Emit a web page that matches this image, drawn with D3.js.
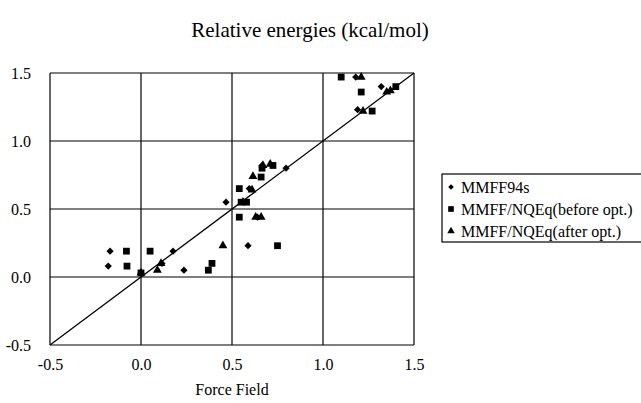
<!DOCTYPE html>
<html>
<head>
<meta charset="utf-8">
<script src="https://cdn.jsdelivr.net/npm/d3@7"></script>
<style>
  body { margin: 0; background: #fff; }
  text { font-family: "Liberation Serif", "Times New Roman", serif; fill: #000; }
</style>
</head>
<body>
<svg id="chart" width="641" height="403"></svg>
<script>
// tick values
let xTicks = [-0.5, 0.0, 0.5, 1.0, 1.5];
let yTicks = [-0.5, 0.0, 0.5, 1.0, 1.5];

// series, [force field, reference]
let mmff94s = [[-0.18,0.08],[-0.17,0.19],[0.0,0.03],[0.115,0.10],[0.176,0.19],[0.236,0.05],
  [0.467,0.55],[0.588,0.23],[0.595,0.65],[0.64,0.44],[0.665,0.82],[0.797,0.80],
  [1.18,1.47],[1.19,1.23],[1.32,1.40]];
let nqeqBefore = [[-0.08,0.19],[-0.077,0.08],[0.0,0.03],[0.05,0.19],[0.37,0.05],[0.39,0.10],
  [0.54,0.44],[0.54,0.65],[0.55,0.55],[0.58,0.55],[0.66,0.735],[0.665,0.80],[0.725,0.82],
  [0.75,0.23],[1.10,1.47],[1.21,1.36],[1.27,1.22],[1.40,1.40]];
let nqeqAfter = [[0.0,0.03],[0.09,0.05],[0.11,0.10],[0.45,0.23],[0.56,0.55],[0.615,0.74],
  [0.61,0.64],[0.63,0.44],[0.66,0.44],[0.67,0.82],[0.71,0.83],[1.21,1.47],[1.22,1.22],
  [1.35,1.36],[1.37,1.37]];

let seriesNames = ["MMFF94s", "MMFF/NQEq(before opt.)", "MMFF/NQEq(after opt.)"];
let series = [mmff94s, nqeqBefore, nqeqAfter];

var svg = d3.select("#chart");
var plot = {left: 50, right: 414, top: 73, bottom: 345};

var x = d3.scaleLinear().domain([-0.5, 1.5]).range([plot.left, plot.right]);
var y = d3.scaleLinear().domain([-0.5, 1.5]).range([plot.bottom, plot.top]);

var fmt = d => d.toFixed(1);

// marker shapes: diamond, square, triangle
var shapes = [
  d3.symbol().type(d3.symbolSquare).size(26),
  d3.symbol().type(d3.symbolSquare).size(46),
  d3.symbol().type(d3.symbolTriangle).size(34)
];
var rot = [45, 0, 0];

// title
svg.append("text")
  .attr("x", 310).attr("y", 37)
  .attr("text-anchor", "middle")
  .style("font-size", "21px")
  .text("Relative energies (kcal/mol)");

// gridlines
var grid = svg.append("g");
grid.selectAll(".vg").data(xTicks).enter().append("line")
  .attr("x1", d => x(d)).attr("x2", d => x(d))
  .attr("y1", plot.top).attr("y2", plot.bottom)
  .style("stroke", "#000").style("stroke-width", 1.2);
grid.selectAll(".hg").data(yTicks).enter().append("line")
  .attr("y1", d => y(d)).attr("y2", d => y(d))
  .attr("x1", plot.left).attr("x2", plot.right)
  .style("stroke", "#000").style("stroke-width", 1.2);

// axes labels
svg.append("g")
  .attr("transform", "translate(0," + plot.bottom + ")")
  .call(d3.axisBottom(x).tickValues(xTicks).tickFormat(fmt).tickSize(0).tickPadding(14))
  .call(g => g.select(".domain").remove())
  .selectAll("text").style("font-size", "16px")
  .style("font-family", "Liberation Serif");

svg.append("g")
  .attr("transform", "translate(" + plot.left + ",0)")
  .call(d3.axisLeft(y).tickValues(yTicks).tickFormat(fmt).tickSize(0).tickPadding(19))
  .call(g => g.select(".domain").remove())
  .selectAll("text").style("font-size", "16px")
  .style("font-family", "Liberation Serif");

svg.append("text")
  .attr("x", x(0.5)).attr("y", 395)
  .attr("text-anchor", "middle")
  .style("font-size", "16px")
  .text("Force Field");

// y = x line
svg.append("line")
  .attr("x1", x(-0.5)).attr("y1", y(-0.5))
  .attr("x2", x(1.5)).attr("y2", y(1.5))
  .style("stroke", "#000").style("stroke-width", 1.3);

// points
series.forEach(function(s, i) {
  svg.append("g").selectAll("path").data(s).enter().append("path")
    .attr("d", shapes[i])
    .attr("transform", d => "translate(" + x(d[0]) + "," + y(d[1]) + ") rotate(" + rot[i] + ")")
    .style("fill", "#000");
});

// legend
var legend = svg.append("g").attr("transform", "translate(442,174)");
legend.append("rect")
  .attr("width", 210).attr("height", 68)
  .style("fill", "#fff").style("stroke", "#000").style("stroke-width", 1.2);
var legendShapes = [
  d3.symbol().type(d3.symbolSquare).size(16),
  d3.symbol().type(d3.symbolSquare).size(32),
  d3.symbol().type(d3.symbolTriangle).size(24)
];
var item = legend.selectAll(".item").data(seriesNames).enter().append("g")
  .attr("transform", (d, i) => "translate(0," + (13 + i * 22) + ")");
item.append("path")
  .attr("d", (d, i) => legendShapes[i]())
  .attr("transform", (d, i) => "translate(9,0) rotate(" + rot[i] + ")")
  .style("fill", "#000");
item.append("text")
  .attr("x", 19).attr("dy", "0.35em")
  .style("font-size", "16px")
  .text(d => d);
</script>
</body>
</html>
